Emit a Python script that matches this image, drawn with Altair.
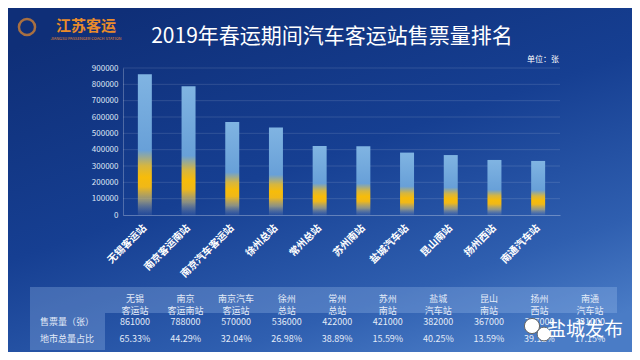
import altair as alt
import pandas as pd

# ---------------- data ----------------
stations = ["无锡客运站", "南京客运南站", "南京汽车客运站", "徐州总站", "常州总站",
            "苏州南站", "盐城汽车站", "昆山南站", "扬州西站", "南通汽车站"]
headers = ["无锡\n客运站", "南京\n客运南站", "南京汽车\n客运站", "徐州\n总站", "常州\n总站",
           "苏州\n南站", "盐城\n汽车站", "昆山\n南站", "扬州\n西站", "南通\n汽车站"]
tickets = [861000, 788000, 570000, 536000, 422000, 421000, 382000, 367000, 337000, 331000]
shares = ["65.33%", "44.29%", "32.04%", "26.98%", "38.89%", "15.59%", "40.25%", "13.59%", "39.12%", "17.15%"]
row_labels = ["售票量（张）", "地市总量占比"]
y_ticks = [0, 100000, 200000, 300000, 400000, 500000, 600000, 700000, 800000, 900000]

df = pd.DataFrame({
    "station": stations,
    "header": headers,
    "tickets": tickets,
    "tickets_txt": [str(v) for v in tickets],
    "share": shares,
})
one = pd.DataFrame({"k": [0]})
rows_df = pd.DataFrame({"row": row_labels})
grid_df = pd.DataFrame({"v": y_ticks[1:]})

FONT = "Noto Sans CJK SC"
W, H = 437, 147
PAD = {"left": 115, "top": 60, "right": 72, "bottom": 137}
YSCALE = alt.Scale(domain=[0, 900000], nice=False)

# ---------------- background ----------------
bg = alt.Chart(one).mark_rect(
    fill=alt.Gradient(
        gradient="linear", x1=0.2, y1=0, x2=0.8, y2=1,
        stops=[alt.GradientStop(color="#0f2f78", offset=0),
               alt.GradientStop(color="#163f92", offset=0.45),
               alt.GradientStop(color="#2f5fb0", offset=0.8),
               alt.GradientStop(color="#4a7cc6", offset=1)]),
).encode(x=alt.value(-PAD["left"]), x2=alt.value(W + PAD["right"]),
         y=alt.value(-PAD["top"]), y2=alt.value(H + PAD["bottom"]))

grid = alt.Chart(grid_df).mark_rule(color="rgba(255,255,255,0.16)", strokeWidth=0.8).encode(
    y=alt.Y("v:Q", scale=YSCALE, axis=None), x=alt.value(0), x2=alt.value(W))

# ---------------- bars ----------------
bar_grad = alt.Gradient(
    gradient="linear", x1=0, y1=1, x2=0, y2=0,
    stops=[alt.GradientStop(color="rgba(130,150,195,0.12)", offset=0),
           alt.GradientStop(color="rgba(200,185,120,0.65)", offset=0.1),
           alt.GradientStop(color="#f0b818", offset=0.2),
           alt.GradientStop(color="#f7bc0a", offset=0.27),
           alt.GradientStop(color="#d6b640", offset=0.35),
           alt.GradientStop(color="#68a0d8", offset=0.46),
           alt.GradientStop(color="#80b4e2", offset=1)])

bars = alt.Chart(df).mark_bar(fill=bar_grad).encode(
    x=alt.X("station:N", sort=stations, title=None,
            scale=alt.Scale(paddingInner=0.68, paddingOuter=0.34),
            axis=alt.Axis(labelAngle=-45, labelAlign="right", labelBaseline="middle",
                          labelColor="white", labelFont=FONT, labelFontSize=10,
                          labelFontWeight="bold", labelPadding=11, ticks=False, zindex=1,
                          domainColor="rgba(255,255,255,0.3)")),
    y=alt.Y("tickets:Q", title=None, scale=YSCALE,
            axis=alt.Axis(values=y_ticks, format="d", labelColor="#dfe7f5",
                          labelFont=FONT, labelFontSize=8, ticks=False, labelPadding=5,
                          grid=False, zindex=1,
                          domainColor="rgba(255,255,255,0.25)")),
)

# ---------------- table ----------------
col_x = alt.X("station:N", sort=stations, axis=None,
              scale=alt.Scale(type="point", domain=stations, range=[12, 467], padding=0))

hdr_band = alt.Chart(one).mark_rect(fill="rgba(170,200,245,0.28)").encode(
    x=alt.value(-93), x2=alt.value(494), y=alt.value(219), y2=alt.value(245))
lbl_band = alt.Chart(one).mark_rect(fill="rgba(170,200,245,0.28)").encode(
    x=alt.value(-93), x2=alt.value(-18), y=alt.value(245), y2=alt.value(282))

hdr_txt = alt.Chart(df).mark_text(
    font=FONT, fontSize=9, color="#e3ebf8", lineBreak="\n", baseline="middle", lineHeight=12
).encode(x=col_x, y=alt.value(231), text="header:N")

r1_txt = alt.Chart(df).mark_text(font=FONT, fontSize=9, color="#e3ebf8", baseline="middle").encode(
    x=col_x, y=alt.value(254), text="tickets_txt:N")
r2_txt = alt.Chart(df).mark_text(font=FONT, fontSize=9, color="#e3ebf8", baseline="middle").encode(
    x=col_x, y=alt.value(271), text="share:N")

row_lbl = alt.Chart(rows_df).mark_text(font=FONT, fontSize=9, color="#e3ebf8", baseline="middle").encode(
    x=alt.value(-56),
    y=alt.Y("row:N", sort=row_labels, axis=None,
            scale=alt.Scale(type="point", domain=row_labels, range=[254, 271], padding=0)),
    text="row:N")

# ---------------- decorations ----------------
title = alt.Chart(one).mark_text(font=FONT, fontSize=21, color="white", baseline="middle",
                                 text="2019年春运期间汽车客运站售票量排名").encode(
    x=alt.value(209), y=alt.value(-31))

unit = alt.Chart(one).mark_text(font=FONT, fontSize=8, color="white", text="单位：张").encode(
    x=alt.value(420), y=alt.value(-8))

logo_ring = alt.Chart(one).mark_point(shape="circle", filled=False, strokeWidth=2.5,
                                      color="#e98b2a", size=260).encode(
    x=alt.value(-96), y=alt.value(-41))
logo_txt = alt.Chart(one).mark_text(font=FONT, fontSize=15, fontWeight="bold",
                                    color="#e98b2a", text="江苏客运", baseline="middle").encode(
    x=alt.value(-37), y=alt.value(-42))
logo_en = alt.Chart(one).mark_text(font=FONT, fontSize=4, color="#e98b2a", baseline="middle",
                                   text="JIANGSU PASSENGER COACH STATION").encode(
    x=alt.value(-37), y=alt.value(-29))

wm_b1 = alt.Chart(one).mark_point(shape="circle", filled=True, color="white", size=230,
                                  stroke="#666", strokeWidth=1, opacity=1).encode(
    x=alt.value(409), y=alt.value(258))
wm_b2 = alt.Chart(one).mark_point(shape="circle", filled=True, color="white", size=190,
                                  stroke="#666", strokeWidth=1, opacity=1).encode(
    x=alt.value(421), y=alt.value(266))
wm_txt = alt.Chart(one).mark_text(font=FONT, fontSize=19, color="white", text="盐城发布",
                                  baseline="middle").encode(
    x=alt.value(462), y=alt.value(262))

chart = alt.layer(
    bg, grid, bars, hdr_band, lbl_band, hdr_txt, r1_txt, r2_txt, row_lbl,
    title, unit, logo_ring, logo_txt, logo_en, wm_b1, wm_b2, wm_txt
).resolve_scale(x="independent", y="independent").properties(
    width=W, height=H,
    autosize=alt.AutoSizeParams(type="none"),
    padding=PAD,
    background="#163f92",
).configure_view(stroke=None)

chart.save("out.html", embed_options={"renderer": "svg", "actions": False})
